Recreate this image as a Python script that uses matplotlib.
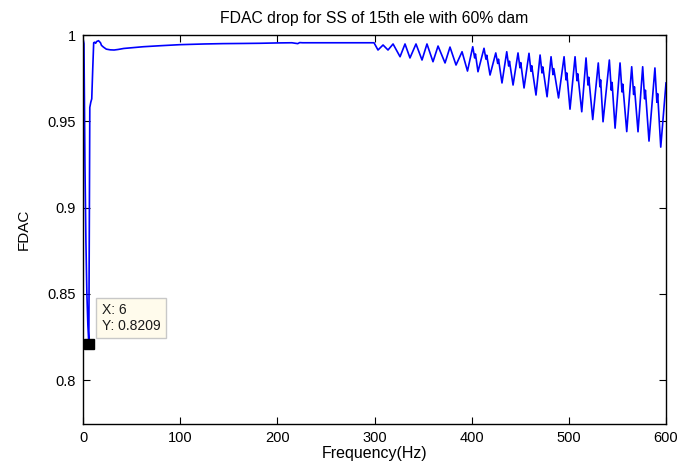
import matplotlib
matplotlib.use("Agg")
import matplotlib.pyplot as plt
from matplotlib.ticker import FixedLocator

plt.rcParams['font.family'] = ['Liberation Sans', 'DejaVu Sans']

# ---- data ----
freq_low = [0, 1, 2, 3, 4, 5, 6, 7, 8, 9, 10, 11, 12, 13, 14, 16, 18, 19, 21,
            24, 28, 32, 36, 42, 50, 62, 80, 100, 125, 144, 165, 182, 200,
            215, 221, 223, 226, 250, 280]
fdac_low = [0.998, 0.995, 0.925, 0.88, 0.85, 0.832, 0.8209, 0.958, 0.961, 0.963,
            0.980, 0.9955, 0.9958, 0.9952, 0.9962, 0.9967, 0.9955, 0.9940, 0.9930,
            0.9918, 0.9914, 0.9913, 0.9916, 0.9922, 0.9926, 0.9932, 0.9938, 0.9944,
            0.9948, 0.9950, 0.9951, 0.9952, 0.9954, 0.9955, 0.9950, 0.9956, 0.9955,
            0.9955, 0.9955]

freq_osc = [299.5, 303.6, 308.8, 313.9, 319.1, 326.3, 331.4, 336.5, 342.7, 348.9,
            354.0, 360.2, 365.4, 372.6, 377.7, 383.9, 390.1, 395.7,
            401.1, 403.1, 403.9, 406.5,
            412.7, 414.7, 415.5, 418.9,
            424.8, 426.8, 427.6, 431.2,
            436.1, 438.1, 438.9, 442.6,
            447.7, 449.7, 450.5, 453.9,
            459.0, 461.0, 461.8, 466.2,
            470.4, 472.4, 473.2, 477.6,
            481.7, 483.7, 484.5, 489.4,
            495.1, 497.1, 497.9, 501.2,
            506.4, 508.4, 509.2, 513.3,
            517.7, 519.7, 520.5, 524.6,
            530.3, 532.0, 532.7, 535.2,
            541.7, 543.7, 544.5, 547.6,
            552.7, 554.7, 555.5, 559.6,
            564.7, 566.7, 567.5, 571.2,
            576.0, 578.0, 578.8, 582.5,
            588.6, 590.6, 591.4, 594.6,
            600.0]
fdac_osc = [0.9955, 0.9913, 0.9942, 0.9913, 0.9948, 0.9874, 0.9948, 0.9867, 0.9948, 0.9855,
            0.9948, 0.9845, 0.9936, 0.9838, 0.9930, 0.9826, 0.9903, 0.9791,
            0.9932, 0.9867, 0.9890, 0.9787,
            0.9923, 0.9860, 0.9883, 0.9768,
            0.9896, 0.9835, 0.9860, 0.9722,
            0.9903, 0.9820, 0.9848, 0.9710,
            0.9896, 0.9810, 0.9840, 0.9693,
            0.9894, 0.9790, 0.9822, 0.9652,
            0.9884, 0.9780, 0.9815, 0.9642,
            0.9874, 0.9770, 0.9805, 0.9635,
            0.9874, 0.9740, 0.9780, 0.9570,
            0.9874, 0.9735, 0.9775, 0.9555,
            0.9867, 0.9710, 0.9755, 0.9510,
            0.9838, 0.9700, 0.9740, 0.9497,
            0.9855, 0.9680, 0.9725, 0.9460,
            0.9838, 0.9670, 0.9715, 0.9440,
            0.9816, 0.9655, 0.9700, 0.9439,
            0.9816, 0.9630, 0.9680, 0.9385,
            0.9809, 0.9610, 0.9660, 0.9350,
            0.9722]

freq = freq_low + freq_osc
fdac = fdac_low + fdac_osc

tip_x = 6
tip_y = 0.8209

x_ticks = [0, 100, 200, 300, 400, 500, 600]
y_ticks = [0.8, 0.85, 0.9, 0.95, 1.0]
y_tick_labels = ['0.8', '0.85', '0.9', '0.95', '1']

title = 'FDAC drop for SS of 15th ele with 60% dam'
xlabel = 'Frequency(Hz)'
ylabel = 'FDAC'

# ---- figure ----
fig = plt.figure(figsize=(6.93, 4.65), dpi=100)
ax = fig.add_axes([83/693, 1-424/465, (666-83)/693, (424-35)/465])

ax.plot(freq, fdac, color='#0000FF', linewidth=1.2)
ax.plot([tip_x], [tip_y], marker='s', markersize=7.5, color='black',
        markeredgecolor='black', linestyle='none', zorder=5, clip_on=False)
ax.annotate(f'X: {tip_x}\nY: {tip_y}', xy=(tip_x, tip_y), xytext=(13, 26),
            textcoords='offset pixels', ha='left', va='center', fontsize=10,
            color='#1a1a1a', linespacing=1.15,
            bbox=dict(boxstyle='square,pad=0.4', facecolor='#FFFBEC',
                      edgecolor='#C8C8C8', linewidth=1.0), zorder=6)

ax.set_xlim(0, 600)
ax.set_ylim(0.7745, 1.0)
ax.xaxis.set_major_locator(FixedLocator(x_ticks))
ax.yaxis.set_major_locator(FixedLocator(y_ticks))
ax.set_yticklabels(y_tick_labels)
ax.tick_params(direction='in', top=True, right=True, length=5, width=0.8,
               labelsize=10.5, colors='black', pad=5)
for s in ax.spines.values():
    s.set_linewidth(1.0)
    s.set_color('black')

ax.set_title(title, fontsize=11.3, pad=9)
ax.set_xlabel(xlabel, fontsize=11.5, labelpad=1)
ax.set_ylabel(ylabel, fontsize=11, labelpad=12)

fig.savefig('out.png', dpi=100)
